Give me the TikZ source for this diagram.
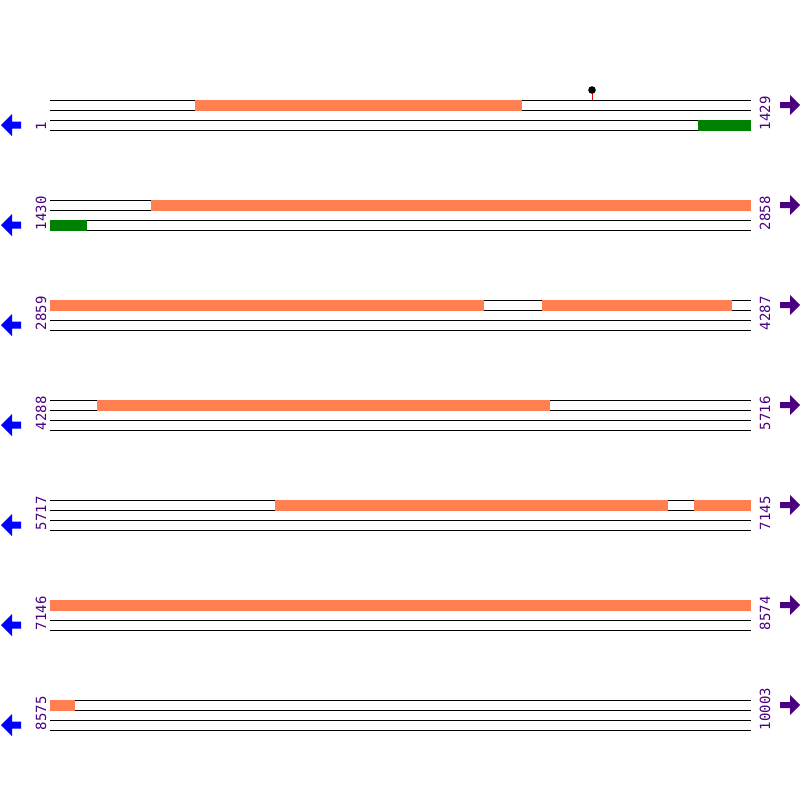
\documentclass[tikz,border=0pt]{standalone}
\usepackage{fontspec}
\newfontfamily\labfont{DejaVu Sans Mono}
\definecolor{feat}{HTML}{FF7F50}
\definecolor{grn}{HTML}{008000}
\definecolor{indg}{HTML}{4B0082}
\begin{document}
\begin{tikzpicture}[x=1pt,y=-1pt,
  track/.style={black,line width=1pt},
  orbar/.style={fill=feat,draw=none},
  gnbar/.style={fill=grn,draw=none},
  numlab/.style={text=indg,font=\labfont\fontsize{14}{14}\selectfont,rotate=90,anchor=base west,inner sep=0pt,outer sep=0pt},
  larrow/.style={fill=blue,draw=none},
  rarrow/.style={fill=indg,draw=none}]
\useasboundingbox (0,0) rectangle (800,800);
\foreach \r/\a/\b [count=\i from 0] in {1/1/1429,2/1430/2858,3/2859/4287,4/4288/5716,5/5717/7145,6/7146/8574,7/8575/10003}{
  \pgfmathsetmacro{\y}{100*\r}
  \foreach \k in {0,10,20,30}{
    \draw[track] (50,\y+\k) -- (751,\y+\k);
  }
  \node[numlab] (l\r) at (46,\y+30) {\a};
  \node[numlab] (r\r) at (770,\y+30) {\b};
  \fill[larrow] (1,\y+25) -- (12,\y+14) -- (12,\y+21.5) -- (21,\y+21.5) -- (21,\y+28.5) -- (12,\y+28.5) -- (12,\y+36) -- cycle;
  \fill[rarrow] (800,\y+5) -- (790,\y-5) -- (790,\y+2) -- (780,\y+2) -- (780,\y+8) -- (790,\y+8) -- (790,\y+15) -- cycle;
}
% row 1
\fill[orbar] (195,99.5) rectangle (522,110.5);
\fill[gnbar] (698,119.5) rectangle (751,130.5);
\draw[red,line width=1pt] (592,90) -- (592,100);
\fill[black] (592,90) circle (3.8);
% row 2
\fill[orbar] (151,199.5) rectangle (751,210.5);
\fill[gnbar] (50,219.5) rectangle (87,230.5);
% row 3
\fill[orbar] (50,299.5) rectangle (484,310.5);
\fill[orbar] (542,299.5) rectangle (732,310.5);
% row 4
\fill[orbar] (97,399.5) rectangle (550,410.5);
% row 5
\fill[orbar] (275,499.5) rectangle (668,510.5);
\fill[orbar] (694,499.5) rectangle (751,510.5);
% row 6
\fill[orbar] (50,599.5) rectangle (751,610.5);
% row 7
\fill[orbar] (50,699.5) rectangle (75,710.5);
\end{tikzpicture}
\end{document}
